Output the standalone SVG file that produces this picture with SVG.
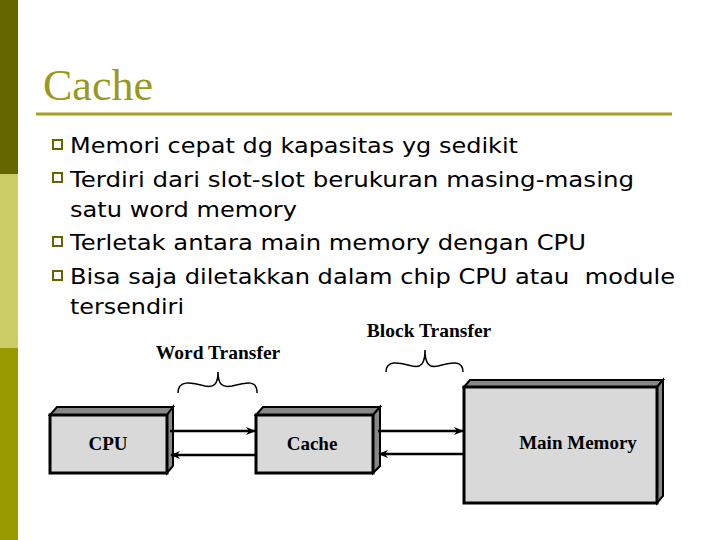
<svg xmlns="http://www.w3.org/2000/svg" width="720" height="540" viewBox="0 0 720 540">
<defs>
<style>
.b{font-family:"DejaVu Sans",Verdana,sans-serif;font-size:22px;fill:#000}
.l{font-family:"Liberation Serif",serif;font-weight:bold;font-size:19.5px;fill:#000;text-anchor:middle}
.n{font-family:"Liberation Serif",serif;font-weight:bold;font-size:19px;fill:#000;text-anchor:middle}
.front{fill:#d9d9d9;stroke:#000;stroke-width:3}
.side{fill:#888;stroke:#000;stroke-width:2}
.sq{fill:#fff;stroke:#666600;stroke-width:2}
.ln{stroke:#000;stroke-width:2.5;fill:none}
.br{stroke:#000;stroke-width:1.5;fill:none}
</style>
<marker id="ah" markerWidth="10" markerHeight="8" refX="9" refY="4" orient="auto" markerUnits="userSpaceOnUse"><path d="M0,0 L10,4 L0,8 L3,4 Z" fill="#000"/></marker>
</defs>
<rect width="720" height="540" fill="#fff"/>
<rect x="0" y="0" width="18" height="174" fill="#666600"/>
<rect x="0" y="174" width="18" height="174" fill="#cccc66"/>
<rect x="0" y="348" width="18" height="192" fill="#999900"/>
<text x="43" y="100" font-family="Liberation Serif,serif" font-size="44" fill="#999922">Cache</text>
<line x1="36" y1="114" x2="672" y2="114" stroke="#a8a020" stroke-width="3"/>
<g>
<rect class="sq" x="53" y="140" width="9" height="9"/>
<rect class="sq" x="53" y="173" width="9" height="9"/>
<rect class="sq" x="53" y="237" width="9" height="9"/>
<rect class="sq" x="53" y="271" width="9" height="9"/>
<text class="b" x="70" y="153" textLength="448" lengthAdjust="spacingAndGlyphs">Memori cepat dg kapasitas yg sedikit</text>
<text class="b" x="70" y="187" textLength="564" lengthAdjust="spacingAndGlyphs">Terdiri dari slot-slot berukuran masing-masing</text>
<text class="b" x="70" y="217" textLength="227" lengthAdjust="spacingAndGlyphs">satu word memory</text>
<text class="b" x="70" y="250" textLength="516" lengthAdjust="spacingAndGlyphs">Terletak antara main memory dengan CPU</text>
<text class="b" x="70" y="284" textLength="605" lengthAdjust="spacingAndGlyphs" xml:space="preserve">Bisa saja diletakkan dalam chip CPU atau  module</text>
<text class="b" x="70" y="314" textLength="114" lengthAdjust="spacingAndGlyphs">tersendiri</text>
</g>
<text class="l" x="218" y="359">Word Transfer</text>
<text class="l" x="429" y="337">Block Transfer</text>
<path class="br" d="M178,393 C178,380 190,382 205,386 C214,388 218,384 218,372 C218,384 222,388 232,386 C248,382 257,380 257,393"/>
<path class="br" d="M386,372 C386,360 398,362 412,366 C421,368 425,364 425,350 C425,364 429,368 438,366 C452,362 463,360 463,372"/>
<g id="cpu">
<path class="side" d="M50,415 L57,407 L173,407 L167,415 Z"/>
<path class="side" d="M167,415 L173,407 L173,466 L167,473 Z"/>
<rect class="front" x="50" y="415" width="117" height="58"/>
<text class="n" x="108" y="450">CPU</text>
</g>
<g id="cache">
<path class="side" d="M256,415 L263,407 L380,407 L373,415 Z"/>
<path class="side" d="M373,415 L380,407 L380,466 L373,473 Z"/>
<rect class="front" x="256" y="415" width="117" height="58"/>
<text class="n" x="312" y="450">Cache</text>
</g>
<g id="mainmemory">
<path class="side" d="M464,387 L470,380 L663,380 L657,387 Z"/>
<path class="side" d="M657,387 L663,380 L663,496 L657,503 Z"/>
<rect class="front" x="464" y="387" width="193" height="116"/>
<text class="n" x="578" y="449">Main Memory</text>
</g>
<g id="connectors">
<line class="ln" x1="170" y1="431" x2="255" y2="431" marker-end="url(#ah)"/>
<line class="ln" x1="256" y1="455" x2="171" y2="455" marker-end="url(#ah)"/>
<line class="ln" x1="378" y1="431" x2="463" y2="431" marker-end="url(#ah)"/>
<line class="ln" x1="464" y1="454" x2="379" y2="454" marker-end="url(#ah)"/>
</g>
</svg>
